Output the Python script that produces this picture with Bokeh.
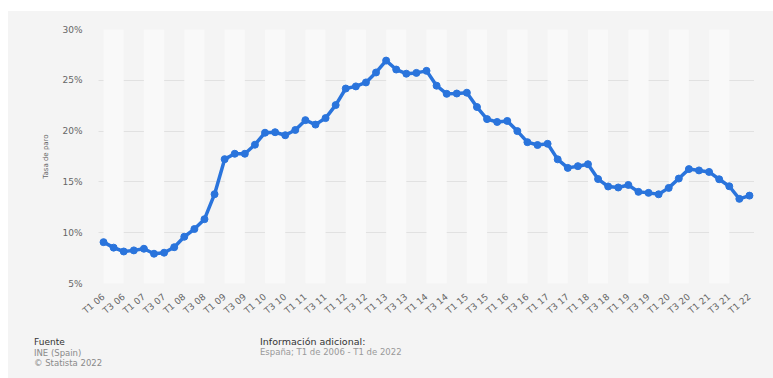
from math import radians

from bokeh.plotting import figure
from bokeh.layouts import column
from bokeh.models import Range1d, FixedTicker, PrintfTickFormatter, ColumnDataSource, Div
from bokeh.embed import file_html
from bokeh.resources import INLINE

# Quarterly unemployment rate in Spain (EPA), T1 2006 - T1 2022
quarters = [
    "T1 06", "T2 06", "T3 06", "T4 06", "T1 07", "T2 07", "T3 07", "T4 07",
    "T1 08", "T2 08", "T3 08", "T4 08", "T1 09", "T2 09", "T3 09", "T4 09",
    "T1 10", "T2 10", "T3 10", "T4 10", "T1 11", "T2 11", "T3 11", "T4 11",
    "T1 12", "T2 12", "T3 12", "T4 12", "T1 13", "T2 13", "T3 13", "T4 13",
    "T1 14", "T2 14", "T3 14", "T4 14", "T1 15", "T2 15", "T3 15", "T4 15",
    "T1 16", "T2 16", "T3 16", "T4 16", "T1 17", "T2 17", "T3 17", "T4 17",
    "T1 18", "T2 18", "T3 18", "T4 18", "T1 19", "T2 19", "T3 19", "T4 19",
    "T1 20", "T2 20", "T3 20", "T4 20", "T1 21", "T2 21", "T3 21", "T4 21",
    "T1 22",
]
unemployment_rate = [
    9.07, 8.53, 8.15, 8.26, 8.42, 7.93, 8.03, 8.57,
    9.60, 10.36, 11.33, 13.79, 17.24, 17.77, 17.77, 18.66,
    19.84, 19.89, 19.59, 20.11, 21.08, 20.64, 21.28, 22.56,
    24.19, 24.40, 24.79, 25.77, 26.94, 26.06, 25.65, 25.73,
    25.93, 24.47, 23.67, 23.70, 23.78, 22.37, 21.18, 20.90,
    21.00, 20.00, 18.91, 18.63, 18.75, 17.22, 16.38, 16.55,
    16.74, 15.28, 14.55, 14.45, 14.70, 14.02, 13.92, 13.78,
    14.41, 15.33, 16.26, 16.13, 15.98, 15.26, 14.57, 13.33,
    13.65,
]
y_ticks = [5, 10, 15, 20, 25, 30]

# footer texts
source_title = "Fuente"
source_lines = ["INE (Spain)", "© Statista 2022"]
info_title = "Información adicional:"
info_lines = ["España; T1 de 2006 - T1 de 2022"]

FONT = "DejaVu Sans"
BLUE = "#2a74dc"
PANEL = "#f4f4f4"
W = 765
H_CHART, H_FOOT = 311, 56

idx = list(range(len(quarters)))
src = ColumnDataSource(data=dict(x=idx, rate=unemployment_rate, label=quarters))

p = figure(
    width=W, height=H_CHART,
    x_range=Range1d(-0.5, len(quarters) - 0.5),
    y_range=Range1d(y_ticks[0], y_ticks[-1]),
    output_backend="svg", toolbar_location=None,
    min_border_left=90, min_border_right=19, min_border_top=18, min_border_bottom=39,
)
p.background_fill_color = PANEL
p.border_fill_color = PANEL
p.outline_line_color = None

# alternating light column bands, two quarters wide, between tick positions
band_left = [i for i in range(0, len(quarters) - 1, 4)]
band_right = [i + 2 for i in band_left]
p.quad(left=band_left, right=band_right, bottom=y_ticks[0], top=y_ticks[-1],
       fill_color="#f9f9f9", line_color=None)

p.line("x", "rate", source=src, line_color=BLUE, line_width=3.5, line_join="round")
p.scatter("x", "rate", source=src, size=7, fill_color=BLUE, line_color=BLUE)

# grids
p.xgrid.grid_line_color = None
p.ygrid.ticker = FixedTicker(ticks=y_ticks)
p.ygrid.grid_line_color = "#cfcfcf"
p.ygrid.grid_line_dash = "1 1"
p.ygrid.grid_line_width = 1

# y axis
ya = p.yaxis[0]
ya.ticker = FixedTicker(ticks=y_ticks)
ya.formatter = PrintfTickFormatter(format="%d%%")
ya.axis_line_color = None
ya.major_tick_line_color = None
ya.minor_tick_line_color = None
ya.major_tick_out = 0
ya.major_tick_in = 0
ya.minor_tick_out = 0
ya.major_label_standoff = 16
ya.major_label_text_font = FONT
ya.major_label_text_font_size = "9px"
ya.major_label_text_color = "#666666"
ya.axis_label = "Tasa de paro"
ya.axis_label_text_font = FONT
ya.axis_label_text_font_size = "7px"
ya.axis_label_text_font_style = "normal"
ya.axis_label_text_color = "#666666"
ya.axis_label_standoff = 9

# x axis: every second quarter labelled
xa = p.xaxis[0]
tick_pos = idx[::2]
xa.ticker = FixedTicker(ticks=tick_pos)
xa.major_label_overrides = {i: quarters[i] for i in tick_pos}
xa.major_label_orientation = radians(40)
xa.axis_line_color = None
xa.major_tick_line_color = None
xa.minor_tick_line_color = None
xa.major_label_standoff = 6
xa.major_label_text_font = FONT
xa.major_label_text_font_size = "9px"
xa.major_label_text_color = "#666666"


# footer: source and additional information blocks
def block(left, title, lines, title_size, color):
    body = "<br>".join(lines)
    return (
        f'<div style="position:absolute;left:{left}px;top:15px;line-height:9.5px;'
        f'white-space:nowrap;">'
        f'<span style="color:#333333;font-size:{title_size};">{title}</span><br>'
        f'<span style="color:{color};font-size:8.5px;">{body}</span></div>'
    )


footer_html = (
    f'<div style="position:relative;width:{W}px;height:{H_FOOT}px;'
    f'font-family:\'{FONT}\';">'
    + block(26, source_title, source_lines, "9px", "#8a8a8a")
    + block(252, info_title, info_lines, "9.5px", "#999999")
    + "</div>"
)
footer = Div(text=footer_html, width=W, height=H_FOOT, margin=0,
             styles={"background-color": PANEL})

layout = column(p, footer, spacing=0, margin=(11, 0, 0, 8),
                styles={"background-color": PANEL})
open("out.html", "w").write(file_html(layout, INLINE))
